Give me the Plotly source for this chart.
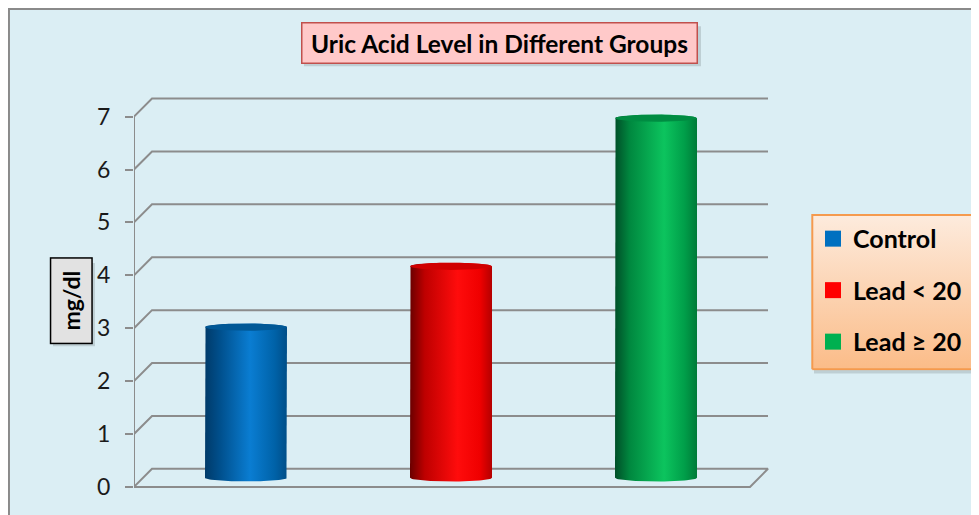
import numpy as np
import plotly.graph_objects as go

# data
groups = ["Control", "Lead < 20", "Lead ≥ 20"]
uric_acid = [2.85, 4.0, 6.8]
y_ticks = [0, 1, 2, 3, 4, 5, 6, 7]

legend_colors = ["#0070C0", "#FF0000", "#00B050"]
cap_colors = ["#005896", "#D00000", "#008C42"]
body_scales = [
  [[0, "#003A69"], [0.18, "#004F8C"], [0.55, "#0A7DD2"], [0.85, "#0062A8"], [1, "#004E88"]],
  [[0, "#6A0000"], [0.18, "#BE0000"], [0.58, "#FF0C0C"], [0.85, "#F00000"], [1, "#B40000"]],
  [[0, "#004F28"], [0.18, "#00883F"], [0.6, "#0CC45E"], [0.85, "#009E49"], [1, "#007A38"]],
]

# the page body has an 8px margin; the capture also comes out a bit squashed
# vertically, so reference pixel rows are divided by KY before use
OFF = 8
KY = 515 / 523
W, H = 979 - OFF, 515
FONT = "Lato"
BG = "#DBEEF4"
GRID = "#8C8C8C"

def px_x(p): return (p - OFF) / W
def px_y(p): return 1 - (p / KY - OFF) / H

# pixel layout of the plotting box (reference coords)
px_left, px_right = 134, 780
px_top, px_bot = 92, 492
x_unit = 205.0          # px per category step
y_unit = 52.7 / KY      # px per mg/dl
x_lo = -112 / x_unit
x_hi = x_lo + (px_right - px_left) / x_unit
y_lo = -(px_bot - 485) / KY / y_unit
y_hi = y_lo + (px_bot - px_top) / KY / y_unit

dx = 18 / x_unit        # depth offset
dy = 18 / KY / y_unit
x_back_right = (768 - 246) / x_unit
x_front_right = (750 - 246) / x_unit

fig = go.Figure()

# back wall grid + floor in fake perspective
gx, gy = [], []
for v in y_ticks[1:]:
  gx += [x_lo, x_lo + dx, x_back_right, None]
  gy += [v, v + dy, v + dy, None]
gx += [x_lo, x_lo + dx, x_back_right, x_front_right, x_lo, None]
gy += [0, dy, dy, 0, 0, None]
gx += [x_lo, x_lo]
gy += [0, y_ticks[-1]]
fig.add_trace(go.Scatter(x=gx, y=gy, mode="lines", line=dict(color=GRID, width=2),
                         hoverinfo="skip", showlegend=False))

# cylinders
half_w = 41 / x_unit
base = 9 / KY / y_unit
ry = 3.6 / KY / y_unit
n_arc = 40
t = np.linspace(0, np.pi, n_arc)
tt = np.linspace(0, 2 * np.pi, 2 * n_arc)
for i, (g, v) in enumerate(zip(groups, uric_acid)):
  top = base + v
  xl, xr = i - half_w, i + half_w
  # body: left side up, back arc of top, right side down, front arc of base
  bx = [xl, xl] + list(i - half_w * np.cos(t)) + [xr] + list(i + half_w * np.cos(t))
  by = [base, top] + list(top + ry * np.sin(t)) + [base] + list(base - ry * np.sin(t))
  fig.add_trace(go.Scatter(x=bx, y=by, mode="lines", fill="toself", line=dict(width=0),
                           fillgradient=dict(type="horizontal", colorscale=body_scales[i]),
                           name=g, hovertemplate=f"{g}: {v}<extra></extra>", showlegend=False))
  fig.add_trace(go.Scatter(x=i + half_w * np.cos(tt), y=top + ry * np.sin(tt), mode="lines",
                           fill="toself", fillcolor=cap_colors[i], line=dict(width=0),
                           hoverinfo="skip", showlegend=False))

# legend box background (vertical gradient) on its own little axes
fig.add_trace(go.Scatter(x=[0, 1, 1, 0, 0], y=[0, 0, 1, 1, 0], mode="lines", fill="toself",
                         line=dict(color="#F59A4E", width=2),
                         fillgradient=dict(type="vertical", colorscale=[[0, "#FBBC88"], [1, "#FDEBDD"]]),
                         xaxis="x2", yaxis="y2", hoverinfo="skip", showlegend=False))

# legend entries
for i, g in enumerate(groups):
  fig.add_trace(go.Scatter(x=[None], y=[None], mode="markers", name=g, legendgroup=g,
                           marker=dict(symbol="square", size=16, color=legend_colors[i])))

shadow = "rgba(0,0,0,0.13)"
fig.update_layout(
  width=W, height=H,
  margin=dict(l=0, r=0, t=0, b=0),
  paper_bgcolor=BG, plot_bgcolor=BG,
  font=dict(family=FONT, color="#111"),
  xaxis=dict(domain=[px_x(px_left), px_x(px_right)], range=[x_lo, x_hi],
             visible=False, fixedrange=True),
  yaxis=dict(domain=[px_y(px_bot), px_y(px_top)], range=[y_lo, y_hi],
             tickvals=y_ticks, ticks="outside", ticklen=8, tickwidth=2, tickcolor=GRID,
             ticklabelstandoff=10, tickfont=dict(size=23, color="#1a1a1a"),
             showgrid=False, zeroline=False, showline=False, fixedrange=True),
  xaxis2=dict(domain=[px_x(811), px_x(975)], range=[-0.008, 1.008], visible=False, fixedrange=True),
  yaxis2=dict(domain=[px_y(369), px_y(213)], range=[-0.008, 1.008], visible=False, fixedrange=True),
  legend=dict(x=px_x(813), y=px_y(215), xanchor="left", yanchor="top",
              bgcolor="rgba(0,0,0,0)", borderwidth=0,
              font=dict(size=25, color="#000", family=FONT, weight="bold"),
              traceorder="grouped", tracegroupgap=16, itemwidth=30),
  shapes=[
    # grey frame line, top and left
    dict(type="line", xref="paper", yref="paper", x0=0.001, x1=0.001, y0=0, y1=1,
         line=dict(color="#8a8a8a", width=2)),
    dict(type="line", xref="paper", yref="paper", x0=0, x1=1, y0=0.998, y1=0.998,
         line=dict(color="#8a8a8a", width=2)),
    # soft drop shadows
    dict(type="rect", xref="paper", yref="paper", x0=px_x(814), x1=px_x(980), y0=px_y(372), y1=px_y(217),
         fillcolor=shadow, line=dict(width=0), layer="below"),
    dict(type="rect", xref="paper", yref="paper", x0=px_x(304), x1=px_x(701), y0=px_y(66), y1=px_y(26),
         fillcolor=shadow, line=dict(width=0), layer="below"),
    dict(type="rect", xref="paper", yref="paper", x0=px_x(53), x1=px_x(95), y0=px_y(345), y1=px_y(262),
         fillcolor=shadow, line=dict(width=0), layer="below"),
  ],
  annotations=[
    dict(text="<b>Uric Acid Level in Different Groups</b>", xref="paper", yref="paper",
         x=px_x(499.5), y=px_y(43), xanchor="center", yanchor="middle", showarrow=False,
         font=dict(size=24.5, color="#000"),
         bgcolor="#FFC9C9", bordercolor="#C0504D", borderwidth=1.5, width=390, height=35,
         borderpad=2),
    dict(text="<b>mg/dl</b>", xref="paper", yref="paper", textangle=-90,
         x=px_x(71), y=px_y(300), xanchor="center", yanchor="middle", showarrow=False,
         font=dict(size=23, color="#000"),
         bgcolor="#E2E2E2", bordercolor="#000", borderwidth=1.5, width=80, height=36,
         borderpad=2),
  ],
)

fig.write_html("out.html")
